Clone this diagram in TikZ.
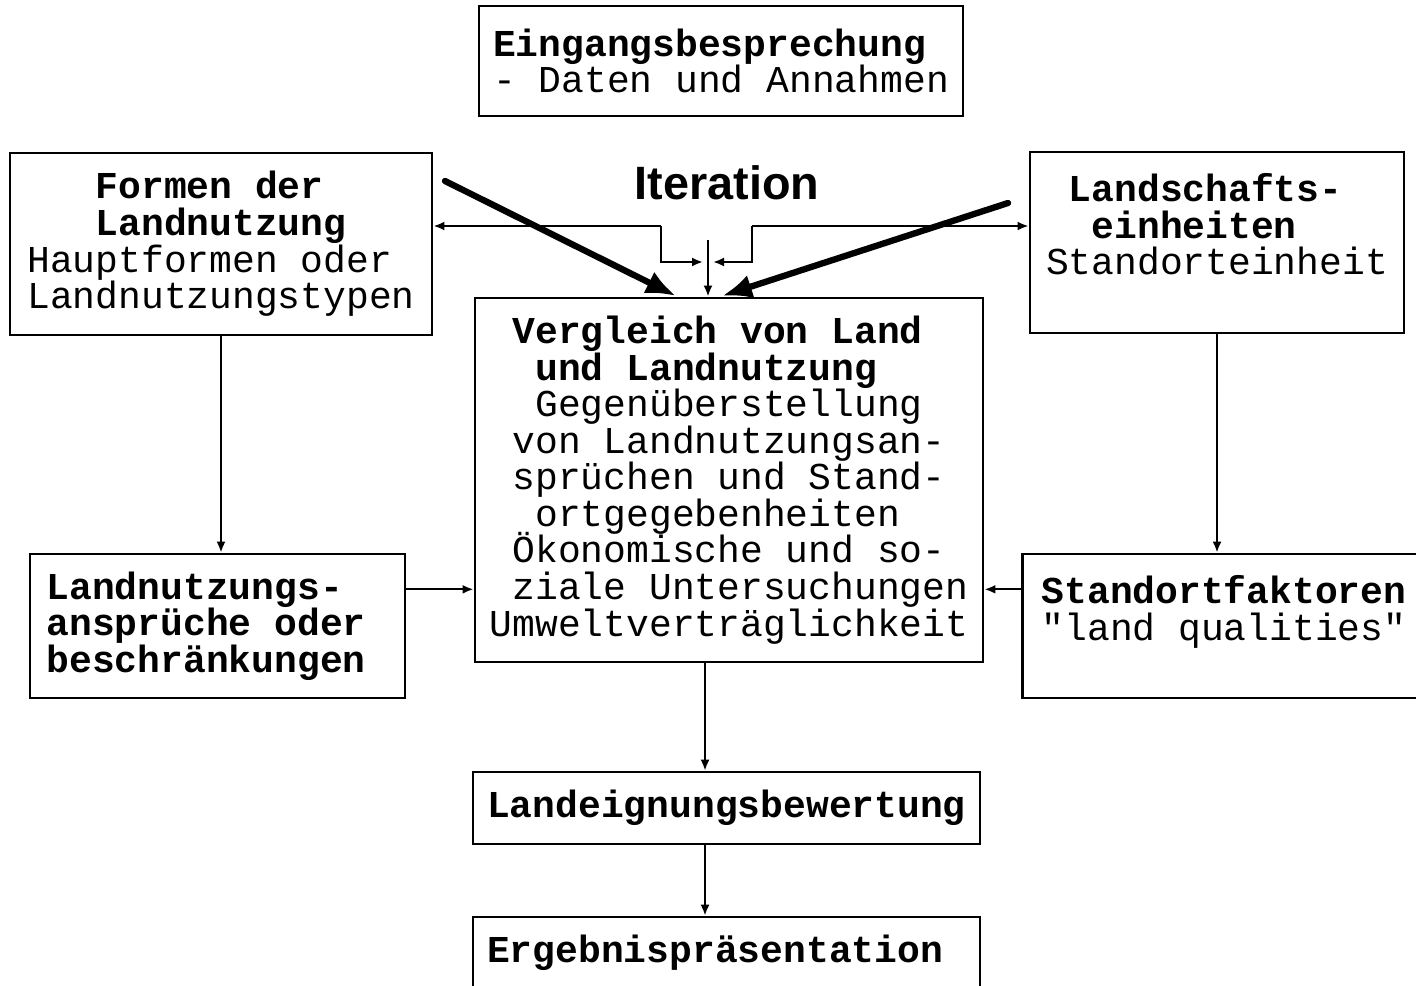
\documentclass[tikz,border=0pt]{standalone}
\usepackage{fontspec}
\newfontfamily\boxfont{Liberation Mono}
\newfontfamily\iterfont{Liberation Sans}
\usetikzlibrary{arrows.meta,calc}
\newcommand\boxsetup{\boxfont\fontsize{10.8pt}{10.4pt}\selectfont
  \lineskiplimit=-20pt\relax}

\begin{document}
\begin{tikzpicture}[x=0.01cm,y=-0.01cm,
  box/.style={draw,line width=0.75pt,inner sep=0pt,align=left,font=\boxsetup},
  arr/.style={line width=0.6pt,-{Latex[length=1.1mm,width=0.9mm]}},
  hand/.style={line width=1.8pt,line cap=round,-{Latex[length=3mm,width=2.4mm]}}]
  \clip (0,0) rectangle (1416,985);
  \fill[white] (0,0) rectangle (1416,985);
  % boxes
  \node[box,minimum width=4.84cm,minimum height=1.10cm] (eing) at (721,61)
    {\textbf{Eingangsbesprechung}\\- Daten und Annahmen};
  \node[box,minimum width=4.22cm,minimum height=1.82cm] (formen) at (221,244)
    {\textbf{\hphantom{xxx}Formen der}\\\textbf{\hphantom{xxx}Landnutzung}\\Hauptformen oder\\Landnutzungstypen};
  \node[box,minimum width=3.74cm,minimum height=1.81cm] (landsch) at (1217,242.5)
    {\textbf{\hphantom{x}Landschafts-}\\\textbf{\hphantom{xx}einheiten}\\Standorteinheit\\\mbox{}};
  \node[box,minimum width=5.08cm,minimum height=3.64cm] (vergl) at (729,480)
    {\textbf{\hphantom{x}Vergleich von Land}\\\textbf{\hphantom{xx}und Landnutzung}\\
     \hphantom{xx}Gegenüberstellung\\\hphantom{x}von Landnutzungsan-\\
     \hphantom{x}sprüchen und Stand-\\\hphantom{xx}ortgegebenheiten\\
     \hphantom{x}Ökonomische und so-\\\hphantom{x}ziale Untersuchungen\\Umweltverträglichkeit};
  \node[box,minimum width=3.75cm,minimum height=1.44cm] (anspr) at (217.5,626)
    {\textbf{Landnutzungs-}\\\textbf{ansprüche oder}\\\textbf{beschränkungen}\hphantom{x}};
  \node[box,minimum width=4.03cm,minimum height=1.44cm] (stand) at (1224,626)
    {\textbf{Standortfaktoren}\\"land qualities"\\\mbox{}};
  \node[box,minimum width=5.07cm,minimum height=0.72cm] (eign) at (726.5,808)
    {\textbf{Landeignungsbewertung}};
  \node[box,minimum width=5.07cm,minimum height=0.72cm] (ergeb) at (726.5,953)
    {\textbf{Ergebnispräsentation}\hphantom{x}};
  % connectors
  \coordinate (ansprR) at ($(anspr.north east)!0.25!(anspr.south east)$);
  \coordinate (standL) at ($(stand.north west)!0.25!(stand.south west)$);
  \draw[arr] (formen.south) -- (formen.south |- anspr.north);
  \draw[arr] (landsch.south) -- (landsch.south |- stand.north);
  \draw[arr] (ansprR) -- (vergl.west |- ansprR);
  \draw[arr] (standL) -- (vergl.east |- standL);
  \coordinate (down) at (705,0);
  \draw[arr] (vergl.south -| down) -- (eign.north -| down);
  \draw[arr] (eign.south -| down) -- (ergeb.north -| down);
  % iteration
  \node[font=\iterfont\bfseries\fontsize{13.3pt}{16pt}\selectfont] (iter) at (727,183) {Iteration};
  \coordinate (itL) at (661,226);
  \coordinate (itR) at (752,226);
  \coordinate (itM) at (708,240);
  \draw[arr] (itL) -- (formen.east |- itL);
  \draw[arr] (itR) -- (landsch.west |- itR);
  \draw[arr] (itL) |- (703,262);
  \draw[arr] (itR) |- (713,262);
  \draw[arr] (itM) -- (vergl.north -| itM);
  \draw[hand] (445,181) -- (676,296);
  \draw[hand] (1008,203) -- (722,296);
\end{tikzpicture}
\end{document}
